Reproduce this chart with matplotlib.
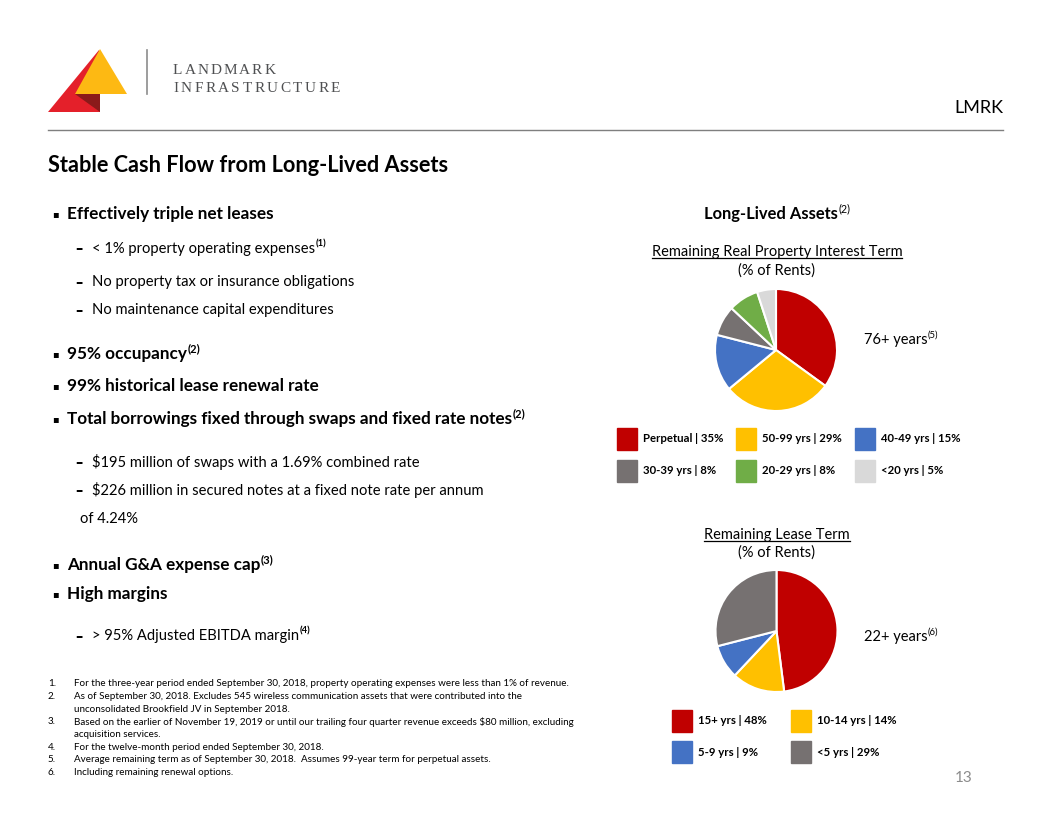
import matplotlib
matplotlib.use('Agg')
import matplotlib.pyplot as plt
from matplotlib.patches import Polygon, Rectangle
from matplotlib.lines import Line2D

# pie data
rent_labels = ['Perpetual', '50-99 yrs', '40-49 yrs', '30-39 yrs', '20-29 yrs', '<20 yrs']
rent_values = [35, 29, 15, 8, 8, 5]
rent_colors = ['#C00000', '#FFC000', '#4472C4', '#767171', '#70AD47', '#D9D9D9']

lease_labels = ['15+ yrs', '10-14 yrs', '5-9 yrs', '<5 yrs']
lease_values = [48, 14, 9, 29]
lease_colors = ['#C00000', '#FFC000', '#4472C4', '#767171']

# left column text: (kind, text, superscript, y)
bullets = [
    ('b', 'Effectively triple net leases', '', 214),
    ('d', '< 1% property operating expenses', '(1)', 249),
    ('d', 'No property tax or insurance obligations', '', 282),
    ('d', 'No maintenance capital expenditures', '', 310),
    ('b', '95% occupancy', '(2)', 354),
    ('b', '99% historical lease renewal rate', '', 386),
    ('b', 'Total borrowings fixed through swaps and fixed rate notes', '(2)', 419),
    ('d', '$195 million of swaps with a 1.69% combined rate', '', 462),
    ('d', '$226 million in secured notes at a fixed note rate per annum', '', 490),
    ('c', 'of 4.24%', '', 519),
    ('b', 'Annual G&A expense cap', '(3)', 565),
    ('b', 'High margins', '', 594),
    ('d', '> 95% Adjusted EBITDA margin', '(4)', 636),
]

footnotes = [
    ('1.', 'For the three-year period ended September 30, 2018, property operating expenses were less than 1% of revenue.'),
    ('2.', 'As of September 30, 2018. Excludes 545 wireless communication assets that were contributed into the'),
    ('', 'unconsolidated Brookfield JV in September 2018.'),
    ('3.', 'Based on the earlier of November 19, 2019 or until our trailing four quarter revenue exceeds $80 million, excluding'),
    ('', 'acquisition services.'),
    ('4.', 'For the twelve-month period ended September 30, 2018.'),
    ('5.', 'Average remaining term as of September 30, 2018.  Assumes 99-year term for perpetual assets.'),
    ('6.', 'Including remaining renewal options.'),
]

plt.rcParams['font.family'] = ['Lato', 'DejaVu Sans']
W, H = 1056, 816
fig = plt.figure(figsize=(W / 100, H / 100), dpi=100)
fig.patch.set_facecolor('white')
r = fig.canvas.get_renderer()


def P(x, y):
    return x / W, 1 - y / H


def txt(x, y, s, size, **kw):
    kw.setdefault('va', 'center')
    return fig.text(*P(x, y), s, fontsize=size, **kw)


def sup_after(t, s, size, color='black', weight='normal'):
    bb = t.get_window_extent(r)
    ymid = (bb.y0 + bb.y1) / 2
    fig.text((bb.x1 + 0.5) / W, (ymid + size * 0.45) / H, s, fontsize=size * 0.65,
             va='center', color=color, weight=weight)


def underline(t, color='black'):
    bb = t.get_window_extent(r)
    fig.add_artist(Line2D([bb.x0 / W, bb.x1 / W], [(bb.y0 + 1) / H] * 2,
                          color=color, lw=0.9))


# logo
def poly(pts, color):
    fig.add_artist(Polygon([P(*p) for p in pts], closed=True, color=color,
                           transform=fig.transFigure, lw=0))


poly([(48, 112), (99, 50), (100, 112)], '#E4202A')
poly([(100, 49), (75, 94), (127, 94)], '#FDB913')
poly([(75, 94), (100, 94), (100, 112)], '#8B1A1A')
fig.add_artist(Line2D([147 / W] * 2, [P(0, 50)[1], P(0, 94)[1]], color='#8c8c8c', lw=1.2))


def spaced(x, y, s, size, track):
    for ch in s:
        t = txt(x, y, ch, size, family='Liberation Serif', color='#4f5052')
        x += t.get_window_extent(r).width + track


spaced(173, 70, 'LANDMARK', 11, 2.0)
spaced(173, 89, 'INFRASTRUCTURE', 11, 2.5)

# header
txt(1003, 108, 'LMRK', 13, ha='right')
fig.add_artist(Line2D([48 / W, 1003 / W], [P(0, 130)[1]] * 2, color='#7f7f7f', lw=1))
txt(48, 165, 'Stable Cash Flow from Long-Lived Assets', 15.7, weight='bold')

# bullets
for kind, s, sp, y in bullets:
    if kind == 'b':
        txt(52, y, '\u25aa', 7, family='DejaVu Sans')
        t = txt(67, y, s, 12.3, weight='bold')
        if sp:
            sup_after(t, sp, 12.3, weight='bold')
    elif kind == 'd':
        txt(75, y, '\u2013', 10.6, family='DejaVu Sans', weight='bold')
        t = txt(92, y, s, 10.6)
        if sp:
            sup_after(t, sp, 10.6, weight='bold')
    else:
        txt(80, y, s, 10.6)

for i, (num, s) in enumerate(footnotes):
    y = 684 + i * 12.6
    if num:
        txt(48, y, num, 7.1)
    txt(74, y, s, 7.1)

txt(973, 778, '13', 11, ha='right', color='#8c8c8c')

# right column titles
t = txt(704, 214, 'Long-Lived Assets', 11.9, weight='bold')
sup_after(t, '(2)', 11.9)
t = txt(777, 252, 'Remaining Real Property Interest Term', 10.5, ha='center')
underline(t)
txt(777, 271, '(% of Rents)', 10.5, ha='center')
t = txt(864, 340, '76+ years', 10.5)
sup_after(t, '(5)', 10.5)

t = txt(777, 535, 'Remaining Lease Term', 10.5, ha='center')
underline(t)
txt(777, 553, '(% of Rents)', 10.5, ha='center')
t = txt(864, 637, '22+ years', 10.5)
sup_after(t, '(6)', 10.5)


def pie(cx, cy, rad, values, colors):
    rr = rad * 1.03
    ax = fig.add_axes([(cx - rr) / W, 1 - (cy + rr) / H, 2 * rr / W, 2 * rr / H])
    ax.pie(values, colors=colors, startangle=90, counterclock=False,
           wedgeprops=dict(edgecolor='white', linewidth=1.5))
    ax.set_xlim(-1.03, 1.03)
    ax.set_ylim(-1.03, 1.03)
    ax.axis('off')


pie(776, 350, 61, rent_values, rent_colors)
pie(776.5, 631, 61, lease_values, lease_colors)


def legend(labels, values, colors, xs, ys):
    for i, (lab, v, c) in enumerate(zip(labels, values, colors)):
        x = xs[i % len(xs)]
        y = ys[i // len(xs)]
        fig.add_artist(Rectangle(P(x, y + 22), 20 / W, 22 / H, color=c,
                                 transform=fig.transFigure))
        txt(x + 26, y + 11, f'{lab} | {v}%', 8.2, weight='bold')


legend(rent_labels, rent_values, rent_colors, [617, 736, 855], [428, 460])
legend(lease_labels, lease_values, lease_colors, [672, 791], [710, 741])

fig.savefig('out.png', dpi=100)
